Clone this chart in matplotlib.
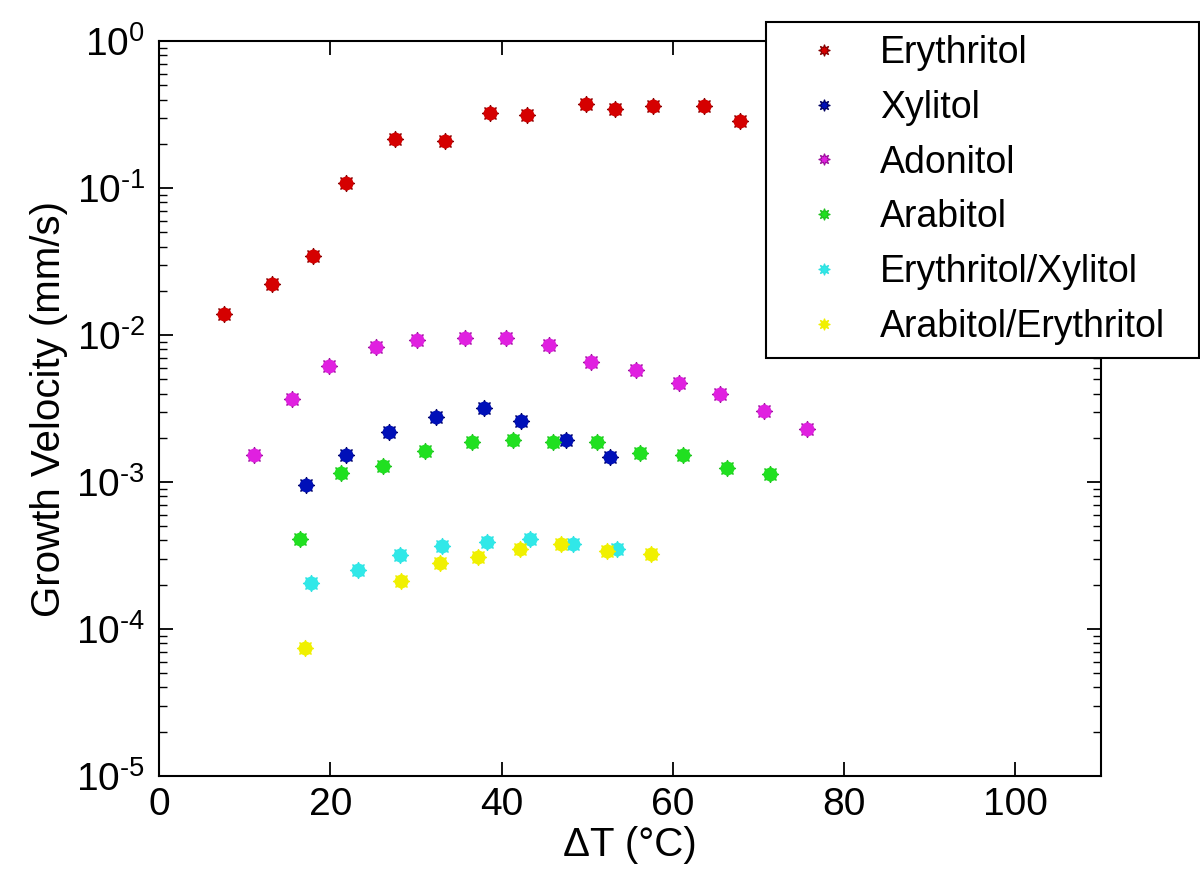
import numpy as np
import matplotlib
matplotlib.use("Agg")
import matplotlib.pyplot as plt
from matplotlib.ticker import LogLocator, FuncFormatter, NullFormatter

plt.rcParams['font.family'] = ['Liberation Sans', 'DejaVu Sans']
plt.rcParams['mathtext.fontset'] = 'custom'
plt.rcParams['mathtext.rm'] = 'Liberation Sans'
plt.rcParams['axes.unicode_minus'] = False

# data
ery_dt = [7.6, 13.2, 18.0, 21.8, 27.6, 33.4, 38.7, 43.0, 49.9, 53.2, 57.7, 63.6, 67.8]
ery_v = [0.0138, 0.0222, 0.0345, 0.109, 0.216, 0.209, 0.325, 0.314, 0.373, 0.346, 0.361, 0.361, 0.284]

xyl_dt = [17.2, 21.8, 26.8, 32.4, 38.0, 42.3, 47.5, 52.7]
xyl_v = [0.00095, 0.00152, 0.0022, 0.00278, 0.00319, 0.00261, 0.00193, 0.00147]

ado_dt = [11.1, 15.5, 19.8, 25.3, 30.1, 35.7, 40.5, 45.5, 50.4, 55.7, 60.7, 65.5, 70.6, 75.7]
ado_v = [0.00152, 0.00367, 0.00612, 0.00832, 0.00925, 0.0095, 0.0095, 0.00858, 0.00658,
         0.00575, 0.00469, 0.00395, 0.00303, 0.0023]

ara_dt = [16.5, 21.2, 26.1, 31.1, 36.6, 41.3, 46.0, 51.1, 56.2, 61.2, 66.3, 71.3]
ara_v = [0.000407, 0.00116, 0.00128, 0.00163, 0.00186, 0.00193, 0.00186, 0.00186,
         0.00157, 0.00153, 0.00125, 0.00113]

ex_dt = [17.7, 23.2, 28.1, 33.1, 38.3, 43.3, 48.4, 53.5]
ex_v = [0.000207, 0.000252, 0.00032, 0.000367, 0.000391, 0.000407, 0.00038, 0.000352]

ae_dt = [17.1, 28.3, 32.8, 37.3, 42.2, 46.9, 52.3, 57.4]
ae_v = [0.0000746, 0.000212, 0.00028, 0.000308, 0.000352, 0.00038, 0.000341, 0.000322]

series = [
    ("Erythritol", ery_dt, ery_v, "#d50000", "#800000"),
    ("Xylitol", xyl_dt, xyl_v, "#0010b8", "#000060"),
    ("Adonitol", ado_dt, ado_v, "#e020e0", "#9a109a"),
    ("Arabitol", ara_dt, ara_v, "#20e020", "#20c020"),
    ("Erythritol/Xylitol", ex_dt, ex_v, "#30e8e8", "#30e0e0"),
    ("Arabitol/Erythritol", ae_dt, ae_v, "#f0f000", "#f0f000"),
]

def exp_label(v, pos):
    e = int(round(np.log10(v)))
    if e < 0:
        return r'$\mathregular{10^{\text{-}%d}}$' % (-e)
    return r'$\mathregular{10^{%d}}$' % e

fig = plt.figure(figsize=(12, 8.77), dpi=100)
ax = fig.add_axes([0.1325, 0.1152, 0.785, 0.838])

for name, x, y, c, ec in series:
    ax.plot(x, y, linestyle='none', marker=(8, 1, 0), markersize=12,
            markerfacecolor=c, markeredgecolor=ec, markeredgewidth=0.8, label=name)
    ax.plot(x, y, linestyle='none', marker='o', markersize=10,
            markerfacecolor=c, markeredgecolor='none')

ax.set_yscale('log')
ax.set_xlim(0, 110)
ax.set_ylim(1e-5, 1)
ax.set_xticks([0, 20, 40, 60, 80, 100])
ax.yaxis.set_major_locator(LogLocator(base=10, numticks=10))
ax.yaxis.set_major_formatter(FuncFormatter(exp_label))
ax.yaxis.set_minor_locator(LogLocator(base=10, subs=np.arange(2, 10), numticks=10))
ax.yaxis.set_minor_formatter(NullFormatter())

ax.tick_params(axis='both', which='major', direction='in', length=10, width=1.3,
               top=True, right=True, labelsize=28, pad=8)
ax.tick_params(axis='y', which='major', pad=10)
ax.tick_params(axis='y', which='minor', direction='in', length=6, width=1.0, right=True)
for s in ax.spines.values():
    s.set_linewidth(1.5)

ax.set_xlabel("ΔT (°C)", fontsize=29, labelpad=2)
ax.set_ylabel("Growth Velocity (mm/s)", fontsize=29, labelpad=6)

leg = fig.legend(loc='upper left', bbox_to_anchor=(0.638, 0.597, 0.361, 0.378),
                 mode='expand', borderaxespad=0, fontsize=27, frameon=True,
                 fancybox=False, handlelength=2.4, handletextpad=0.3,
                 labelspacing=0.5, borderpad=0.35, markerscale=0.7)
leg.get_frame().set_edgecolor('black')
leg.get_frame().set_linewidth(1.5)
leg.get_frame().set_alpha(1)

fig.savefig("out.png", dpi=100)
